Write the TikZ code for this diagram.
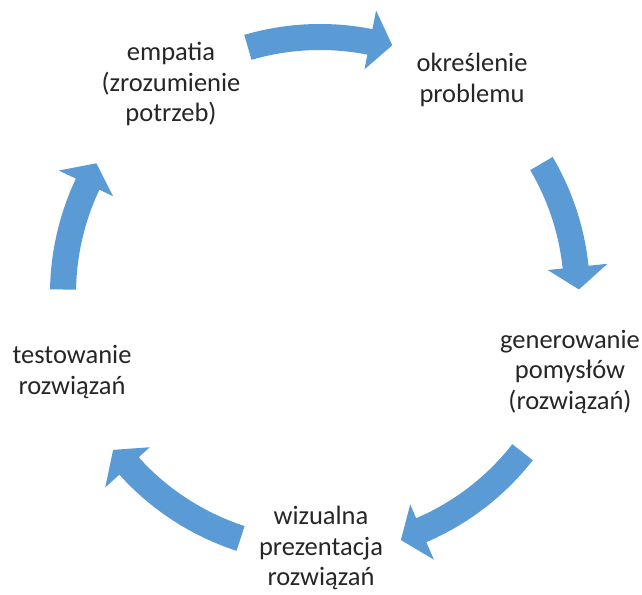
\documentclass[tikz,border=0pt]{standalone}
\usepackage{fontspec}
\setmainfont{Carlito}
\definecolor{arrowblue}{HTML}{5B9BD5}
\definecolor{txt}{HTML}{262626}
\newcommand{\blockarc}[2]{% #1 tail angle, #2 tip angle (clockwise)
  \pgfmathsetmacro{\hb}{#2+5}
  \fill[arrowblue] (#1:270pt) arc[start angle=#1, end angle=\hb, radius=270pt]
    -- (\hb:289pt) -- (#2:259pt) -- (\hb:229pt) -- (\hb:244pt)
    arc[start angle=\hb, end angle=#1, radius=244pt] -- cycle;
}
\tikzset{
  lbl/.style={align=center, text=txt, inner sep=0pt,
    font=\fontsize{26.5}{30.5}\selectfont}
}
\begin{document}
\begin{tikzpicture}[x=1pt,y=1pt]
\useasboundingbox (0,0) rectangle (642,594);
\fill[white] (0,0) rectangle (642,594);
\begin{scope}[shift={(320pt,300pt)}]
  \blockarc{106.3}{73.8}
  \blockarc{30.5}{1}
  \blockarc{-38}{-71.8}
  \blockarc{-108}{-143}
  \blockarc{179}{149.7}
\end{scope}
\node[lbl] (empatia) at (171,510) {empatia\\(zrozumienie\\potrzeb)};
\node[lbl] (problem) at (472,514) {określenie\\problemu};
\node[lbl] (pomysly) at (570,222) {generowanie\\pomysłów\\(rozwiązań)};
\node[lbl] (wizual) at (321,46) {wizualna\\prezentacja\\rozwiązań};
\node[lbl] (test) at (72,222) {testowanie\\rozwiązań};
\end{tikzpicture}
\end{document}
